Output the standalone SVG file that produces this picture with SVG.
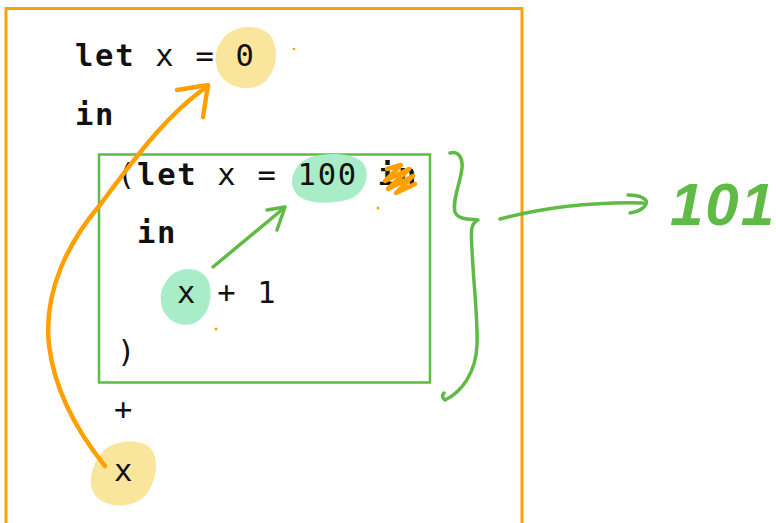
<svg xmlns="http://www.w3.org/2000/svg" width="776" height="523" viewBox="0 0 776 523">
  <style>
    .code { font-family: "DejaVu Sans Mono", "Liberation Mono", monospace; font-size: 30.5px; letter-spacing: 1.7px; fill: #111; }
    .kw { font-weight: bold; }
    .frame-o { fill: none; stroke: #f8a10c; stroke-width: 3; }
    .frame-g { fill: none; stroke: #5fba46; stroke-width: 2.5; }
    .hl-y { fill: #f9e59c; }
    .hl-g { fill: #a8ecc8; }
    .pen-o { fill: none; stroke: #ffa000; stroke-width: 4.5; stroke-linecap: round; stroke-linejoin: round; }
    .pen-g { fill: none; stroke: #5fba46; stroke-width: 3.5; stroke-linecap: round; stroke-linejoin: round; }
    .hand { font-family: "Liberation Sans", Arial, sans-serif; font-weight: bold; font-style: italic; font-size: 60px; fill: #5fba46; }
  </style>

  <rect width="776" height="523" fill="#ffffff"/>

  <!-- outer scope frame -->
  <g id="outer-scope">
    <path class="frame-o" d="M6,530 L6,8.5 L522,8.5 L522,530"/>
  </g>

  <!-- inner scope frame -->
  <g id="inner-scope">
    <rect class="frame-g" x="99" y="154.5" width="331" height="228"/>
  </g>

  <!-- highlight blobs -->
  <g id="highlights">
    <path id="hl-zero" class="hl-y" d="M222,40 C232,24 262,22 272,38 C280,52 276,78 258,86 C240,93 220,82 217,68 C214,56 216,48 222,40 Z"/>
    <path id="hl-hundred" class="hl-g" d="M298,166 C306,152 350,150 362,162 C372,172 366,196 346,200 C326,205 300,204 294,190 C290,182 292,174 298,166 Z"/>
    <path id="hl-inner-x" class="hl-g" d="M166,282 C174,266 200,264 208,280 C214,294 210,318 192,324 C176,328 162,316 161,302 C160,294 162,288 166,282 Z"/>
    <path id="hl-outer-x" class="hl-y" d="M100,455 C110,440 140,436 152,450 C160,462 156,488 140,500 C124,510 100,506 93,492 C88,480 92,466 100,455 Z"/>
  </g>

  <!-- code lines -->
  <g id="code">
    <text class="code" x="75" y="66"><tspan class="kw">let</tspan> x = 0</text>
    <text class="code kw" x="75" y="125">in</text>
    <text class="code" x="117" y="185">(<tspan class="kw">let</tspan> x = 100 <tspan class="kw">in</tspan></text>
    <text class="code kw" x="137" y="243">in</text>
    <text class="code" x="177" y="303">x + 1</text>
    <text class="code" x="117" y="362">)</text>
    <text class="code" x="114" y="420">+</text>
    <text class="code" x="114" y="481">x</text>
  </g>

  <!-- connectors and marks -->
  <g id="connectors">
    <!-- outer x bound to 0 -->
    <path class="pen-o" d="M105,466 C80,435 55,395 49,345 C43,290 70,240 100,205 C130,165 165,115 208,86"/>
    <polyline class="pen-o" points="177,90 208,85 203,117"/>
    <!-- inner x bound to 100 -->
    <path class="pen-g" d="M213,267 L284,208" stroke-width="3"/>
    <polyline class="pen-g" points="267,210 285,207 277,230" stroke-width="3"/>
    <!-- brace over inner expression -->
    <path class="pen-g" d="M450,153 C458,151 463,157 462,168 C460,185 452,200 455,212 C458,220 470,219 478,220 C470,224 471,232 472,250 C474,290 478,320 477,345 C476,372 462,392 445,400 C442,398 442,395 444,393"/>
    <!-- result arrow -->
    <path class="pen-g" d="M500,219 C550,206 600,202 643,203"/>
    <path class="pen-g" d="M628,195 C642,195 648,200 646,204 C644,209 636,212 630,213"/>
    <!-- scribble over the stray keyword -->
    <path class="pen-o" stroke-width="3.5" d="M387,169 L401,165 L385,181 L409,169 L388,189 L413,176 L396,193 L415,184"/>
    <!-- stray pen dots -->
    <circle cx="294" cy="49" r="1.3" fill="#ffa000"/>
    <circle cx="378" cy="208" r="1.5" fill="#ffa000"/>
    <circle cx="216" cy="329" r="1.5" fill="#ffa000"/>
  </g>

  <!-- evaluated result -->
  <g id="result">
    <text class="hand" x="670" y="225" textLength="104" lengthAdjust="spacing">101</text>
  </g>
</svg>
